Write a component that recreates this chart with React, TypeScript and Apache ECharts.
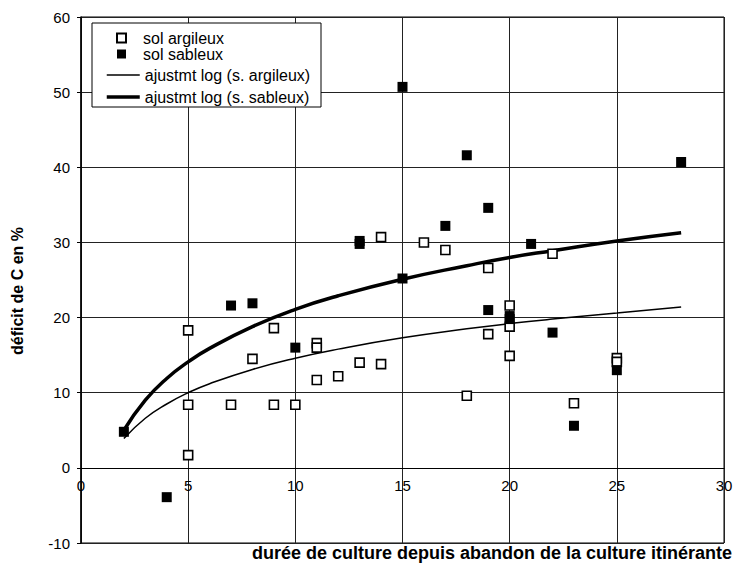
import React, { useEffect, useRef } from "react";
import * as echarts from "echarts";

// Observed points: sol argileux (open squares)
const argileuxX = [5, 5, 5, 7, 8, 9, 9, 10, 11, 11, 11, 12, 13, 14, 14, 16, 17, 18, 19, 19, 20, 20, 20, 22, 23, 25, 25];
const argileuxY = [18.3, 8.4, 1.7, 8.4, 14.5, 18.6, 8.4, 8.4, 16.6, 16.0, 11.7, 12.2, 14.0, 13.8, 30.7, 30.0, 29.0, 9.6, 26.6, 17.8, 21.6, 18.8, 14.9, 28.5, 8.6, 14.6, 14.1];

// Observed points: sol sableux (filled squares)
const sableuxX = [2, 4, 7, 8, 10, 13, 13, 15, 15, 17, 18, 19, 19, 20, 20, 21, 22, 23, 25, 28];
const sableuxY = [4.8, -3.9, 21.6, 21.9, 16.0, 30.2, 29.8, 50.7, 25.2, 32.2, 41.6, 34.6, 21.0, 20.2, 19.8, 29.8, 18.0, 5.6, 13.0, 40.7];

// Fitted curves
const fitX = [2, 3, 4, 5, 6, 8, 10, 12, 15, 18, 20, 22, 25, 28];
const fitArgileuxY = [3.9, 6.6, 8.5, 10.0, 11.2, 13.1, 14.6, 15.8, 17.3, 18.5, 19.2, 19.8, 20.6, 21.4];
const fitSableuxY = [5.0, 9.0, 11.9, 14.1, 15.9, 18.8, 21.1, 22.9, 25.1, 26.9, 28.0, 28.9, 30.2, 31.3];

const names = ["sol argileux", "sol sableux", "ajustmt log (s. argileux)", "ajustmt log (s. sableux)"];
const xTitle = "durée de culture depuis abandon de la culture itinérante";
const yTitle = "déficit de C en %";

const FONT = "'Liberation Sans', Arial, Helvetica, sans-serif";

const GRID_TOP = 17;
const GRID_BOTTOM = 25;
const CHART_H = 568;
const Y_MIN = -10;
const Y_MAX = 60;
const THIN = 1.5;
const THICK = 3.5;

function zip(xs: number[], ys: number[]) {
  return xs.map((x, i) => [x, ys[i]]);
}

export default function App() {
  const ref = useRef<HTMLDivElement>(null);
  useEffect(() => {
    if (!ref.current) return;
    const chart = echarts.init(ref.current, undefined, { renderer: "svg" });
    const plotH = CHART_H - GRID_TOP - GRID_BOTTOM;
    const zeroOffset = -(plotH * (0 - Y_MIN)) / (Y_MAX - Y_MIN);
    chart.setOption({
      animation: false,
      backgroundColor: "#fff",
      textStyle: { fontFamily: FONT, color: "#000" },
      grid: {
        left: 81,
        right: 12,
        top: GRID_TOP,
        bottom: GRID_BOTTOM,
        show: true,
        borderColor: "#000",
        borderWidth: 1,
        backgroundColor: "transparent",
      },
      xAxis: {
        type: "value",
        min: 0,
        max: 30,
        interval: 5,
        offset: zeroOffset,
        axisLine: { onZero: false, lineStyle: { color: "#000", width: 1.2 } },
        axisTick: { show: false },
        axisLabel: { color: "#000", fontSize: 15, fontFamily: FONT, margin: 10 },
        splitLine: { show: true, lineStyle: { color: "#222", width: 1 } },
      },
      yAxis: {
        type: "value",
        min: Y_MIN,
        max: Y_MAX,
        interval: 10,
        axisLine: { show: true, onZero: false, lineStyle: { color: "#000", width: 1.5 } },
        axisTick: { show: true, length: 4, lineStyle: { color: "#000" } },
        axisLabel: { color: "#000", fontSize: 15, fontFamily: FONT, margin: 11 },
        splitLine: { show: true, lineStyle: { color: "#222", width: 1 } },
      },
      legend: [
        {
          data: [names[0], names[1]],
          orient: "vertical",
          left: 116,
          top: 30,
          padding: 0,
          itemWidth: 9,
          itemHeight: 9,
          itemGap: 0,
          textStyle: { fontSize: 16, fontFamily: FONT, color: "#000", padding: [0, 0, 0, 12] },
          z: 5,
        },
        {
          data: [
            { name: names[2], lineStyle: { width: THIN, color: "#000" } },
            { name: names[3], lineStyle: { width: THICK, color: "#000" } },
          ],
          orient: "vertical",
          left: 105,
          top: 67,
          padding: 0,
          itemWidth: 33,
          itemHeight: 14,
          itemGap: 6,
          itemStyle: { color: "rgba(0,0,0,0)", borderColor: "rgba(0,0,0,0)", borderWidth: 0, opacity: 0 },
          textStyle: { fontSize: 16, fontFamily: FONT, color: "#000" },
          z: 5,
        },
      ],
      graphic: [
        {
          type: "rect",
          z: 3,
          shape: { x: 92, y: 23, width: 229, height: 84 },
          style: { fill: "#fff", stroke: "#000", lineWidth: 1 },
        },
        {
          type: "text",
          x: 732,
          y: 553,
          style: {
            text: xTitle,
            fontFamily: FONT,
            fontSize: 18,
            fontWeight: "bold",
            fill: "#000",
            textAlign: "right",
            textVerticalAlign: "middle",
          },
        },
        {
          type: "text",
          x: 17,
          y: 291,
          rotation: Math.PI / 2,
          style: {
            text: yTitle,
            fontFamily: FONT,
            fontSize: 16,
            fontWeight: "bold",
            fill: "#000",
            textAlign: "center",
            textVerticalAlign: "middle",
          },
        },
      ],
      series: [
        {
          name: names[0],
          type: "scatter",
          symbol: "rect",
          symbolSize: 9,
          itemStyle: { color: "#fff", borderColor: "#000", borderWidth: 1.6, opacity: 1 },
          data: zip(argileuxX, argileuxY),
          z: 3,
        },
        {
          name: names[1],
          type: "scatter",
          symbol: "rect",
          symbolSize: 10,
          itemStyle: { color: "#000", opacity: 1 },
          data: zip(sableuxX, sableuxY),
          z: 4,
        },
        {
          name: names[2],
          type: "line",
          smooth: true,
          symbol: "none",
          lineStyle: { color: "#000", width: THIN },
          itemStyle: { color: "#000" },
          data: zip(fitX, fitArgileuxY),
          z: 2,
        },
        {
          name: names[3],
          type: "line",
          smooth: true,
          symbol: "none",
          lineStyle: { color: "#000", width: THICK },
          itemStyle: { color: "#000" },
          data: zip(fitX, fitSableuxY),
          z: 2,
        },
      ],
    });
    return () => chart.dispose();
  }, []);
  return (
    <div
      ref={ref}
      style={{ position: "fixed", left: 0, top: 0, width: 736, height: 568, background: "#fff" }}
    />
  );
}
